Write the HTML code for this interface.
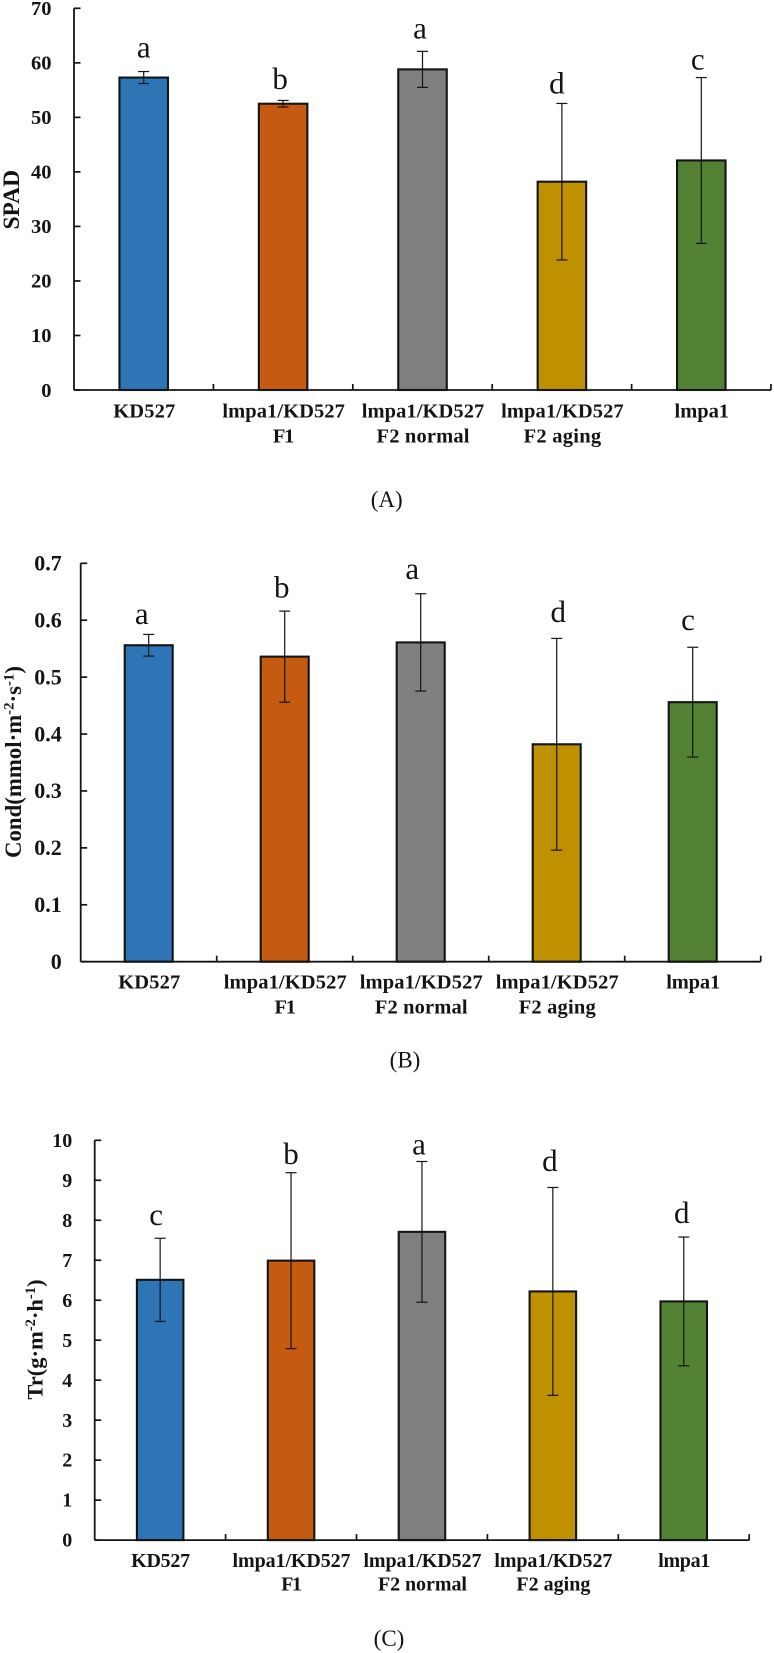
<!DOCTYPE html>
<html lang="en">
<head>
<meta charset="utf-8">
<title>SPAD, Cond and Tr bar charts</title>
<style>
  html, body { margin: 0; padding: 0; background: #fff; }
  svg { display: block; font-family: "Liberation Serif", serif; filter: blur(0.3px); }
</style>
</head>
<body>
<svg id="figure" xmlns="http://www.w3.org/2000/svg" width="774" height="1653" viewBox="0 0 774 1653"></svg>
<script>
const categoryLine1 = ['KD527', 'lmpa1/KD527', 'lmpa1/KD527', 'lmpa1/KD527', 'lmpa1'];
const categoryLine2 = ['', 'F1', 'F2 normal', 'F2 aging', ''];
const seriesColors = ['#2E75B6', '#C55A11', '#7F7F7F', '#BF9000', '#548235'];

const spadValues = [57.3, 52.5, 58.8, 38.2, 42.1];
const spadErrors = [1.1, 0.6, 3.3, 14.35, 15.2];
const spadLetters = ['a', 'b', 'a', 'd', 'c'];
const spadTicks = ['0', '10', '20', '30', '40', '50', '60', '70'];

const condValues = [0.556, 0.536, 0.561, 0.382, 0.456];
const condErrors = [0.019, 0.08, 0.0855, 0.186, 0.0965];
const condLetters = ['a', 'b', 'a', 'd', 'c'];
const condTicks = ['0', '0.1', '0.2', '0.3', '0.4', '0.5', '0.6', '0.7'];

const trValues = [6.51, 6.99, 7.71, 6.22, 5.97];
const trErrors = [1.04, 2.2, 1.76, 2.6, 1.61];
const trLetters = ['c', 'b', 'a', 'd', 'd'];
const trTicks = ['0', '1', '2', '3', '4', '5', '6', '7', '8', '9', '10'];

const NS = 'http://www.w3.org/2000/svg';
const INK = '#141414';
const figure = document.getElementById('figure');

function make(parent, tag, attrs, text) {
  const node = document.createElementNS(NS, tag);
  for (const key in attrs) node.setAttribute(key, attrs[key]);
  if (text !== undefined) node.textContent = text;
  parent.appendChild(node);
  return node;
}

function drawPanel(p) {
  const group = make(figure, 'g', {});
  
  

  const step = (p.xEnd - p.x0) / p.values.length;
  const yMax = Number(p.ticks[p.ticks.length - 1]);
  const xCenter = i => p.x0 + step * (i + 0.5);
  const yScale = v => p.yBottom - (v / yMax) * (p.yBottom - p.yTop);

  // bars
  p.values.forEach((v, i) => {
    const bar = make(group, 'rect', {
      x: xCenter(i) - p.barWidth / 2, y: yScale(v), width: p.barWidth, height: p.yBottom - yScale(v),
      fill: seriesColors[i], stroke: INK, 'stroke-width': 2.1
    });
    
    
  });

  // axes
  const yAxis = make(group, 'line', { x1: p.x0, x2: p.x0, y1: p.yTop, y2: p.yBottom, stroke: INK, 'stroke-width': 1.8 });
  
  
  const xAxis = make(group, 'line', { x1: p.x0, x2: p.xEnd, y1: p.yBottom, y2: p.yBottom, stroke: INK, 'stroke-width': 1.8 });
  
  

  // y ticks and labels
  p.ticks.forEach(t => {
    const y = yScale(Number(t));
    const tick = make(group, 'line', { x1: p.x0, x2: p.x0 + 6.5, y1: y, y2: y, stroke: INK, 'stroke-width': 1.7 });
    
    
    const label = make(group, 'text', {
      x: p.tickRight, y: y + p.tickFont * 0.33, 'text-anchor': 'end', 'font-size': p.tickFont,
      'font-weight': 'bold', fill: INK
    }, t);
    
    
  });

  // x ticks
  p.values.forEach((v, i) => {
    const x = p.x0 + step * (i + 1);
    const tick = make(group, 'line', { x1: x, x2: x, y1: p.yBottom, y2: p.yBottom - 6, stroke: INK, 'stroke-width': 1.7 });
    
    
  });

  // category labels
  categoryLine1.forEach((line, i) => {
    const first = make(group, 'text', {
      x: xCenter(i) + 0.5, y: p.labelY1, 'text-anchor': 'middle', 'font-size': p.labelFont,
      'font-weight': 'bold', fill: INK, textLength: line === 'KD527' ? p.wKD : line === 'lmpa1' ? p.wLmpa : p.wLong,
      lengthAdjust: 'spacing'
    }, line);
    
    
    const secondText = categoryLine2[i];
    if (secondText) {
      const second = make(group, 'text', {
        x: xCenter(i) + 0.5, y: p.labelY2, 'text-anchor': 'middle', 'font-size': p.labelFont,
        'font-weight': 'bold', fill: INK, textLength: secondText === 'F1' ? p.wF1 : secondText === 'F2 normal' ? p.wNormal : p.wAging,
        lengthAdjust: 'spacing'
      }, secondText);
      
      
    }
  });

  // error bars and significance letters
  p.values.forEach((v, i) => {
    const x = xCenter(i);
    const hi = yScale(v + p.errors[i]);
    const lo = yScale(v - p.errors[i]);
    const stem = make(group, 'line', { x1: x, x2: x, y1: hi, y2: lo, stroke: INK, 'stroke-width': 1.2 });
    
    
    [hi, lo].forEach(y => {
      const cap = make(group, 'line', { x1: x - 5.5, x2: x + 5.5, y1: y, y2: y, stroke: INK, 'stroke-width': 1.2 });
      
      
    });
    const letter = make(group, 'text', {
      x: x + p.letterDx[i], y: hi + p.letterDy[i], 'text-anchor': 'middle', 'font-size': 31, fill: INK
    }, p.letters[i]);
    
    
  });

  // y axis title
  const title = make(group, 'text', {
    transform: 'translate(' + p.titleX + ' ' + p.titleY + ') rotate(-90)', 'text-anchor': 'middle',
    'font-size': p.titleFont, 'font-weight': 'bold', fill: INK
  });
  
  
  p.title.forEach(part => {
    const isSup = part[1];
    const span = make(title, 'tspan', isSup
      ? { dy: -p.titleFont * 0.33, 'font-size': p.titleFont * 0.65 }
      : { dy: part[2] ? p.titleFont * 0.33 : 0 }, part[0]);
    
    
  });

  // caption
  const caption = make(group, 'text', {
    x: p.captionX, y: p.captionY, 'text-anchor': 'middle', 'font-size': 23, fill: INK
  }, p.caption);
  
  
}

drawPanel({
  name: 'spad', values: spadValues, errors: spadErrors, letters: spadLetters, ticks: spadTicks,
  x0: 74, xEnd: 771, yTop: 8.3, yBottom: 390, barWidth: 48.5,
  tickFont: 20.5, tickRight: 51.5, labelFont: 20.5, labelY1: 417.7, labelY2: 442.3,
  wKD: 62, wLmpa: 54.5, wLong: 122.5, wF1: 21.5, wNormal: 93, wAging: 77.5,
  letterDx: [0, -3, -2.5, -5, -3.6], letterDy: [-14.3, -11.7, -12.7, -10, -8],
  title: [['SPAD', false]], titleFont: 23.5, titleX: 19, titleY: 199.7,
  caption: '(A)', captionX: 386.7, captionY: 507
});
drawPanel({
  name: 'cond', values: condValues, errors: condErrors, letters: condLetters, ticks: condTicks,
  x0: 80.7, xEnd: 760.7, yTop: 563.3, yBottom: 961.7, barWidth: 48,
  tickFont: 22, tickRight: 61.7, labelFont: 20.5, labelY1: 988.3, labelY2: 1013.3,
  wKD: 62, wLmpa: 54, wLong: 123, wF1: 21.5, wNormal: 92.7, wAging: 77,
  letterDx: [-7, -3, -8.4, 1.6, -4.7], letterDy: [-10.4, -13.7, -14.7, -16.3, -17],
  title: [['Cond(mmol·m', false], ['-2', true], ['·s', false, true], ['-1', true], [')', false, true]],
  titleFont: 22.8, titleX: 21, titleY: 762,
  caption: '(B)', captionX: 405, captionY: 1067.3
});
drawPanel({
  name: 'tr', values: trValues, errors: trErrors, letters: trLetters, ticks: trTicks,
  x0: 94.7, xEnd: 749.2, yTop: 1140.3, yBottom: 1540.1, barWidth: 46.5,
  tickFont: 20, tickRight: 72.3, labelFont: 20, labelY1: 1567, labelY2: 1590.5,
  wKD: 59, wLmpa: 52, wLong: 118, wF1: 20.7, wNormal: 89, wAging: 74,
  letterDx: [-4, 0, -3, -3, -2], letterDy: [-13.3, -8.7, -6.8, -16.7, -14],
  title: [['Tr(g·m', false], ['-2', true], ['·h', false, true], ['-1', true], [')', false, true]],
  titleFont: 22.5, titleX: 42.3, titleY: 1339.5,
  caption: '(C)', captionX: 389, captionY: 1646
});
</script>
</body>
</html>
